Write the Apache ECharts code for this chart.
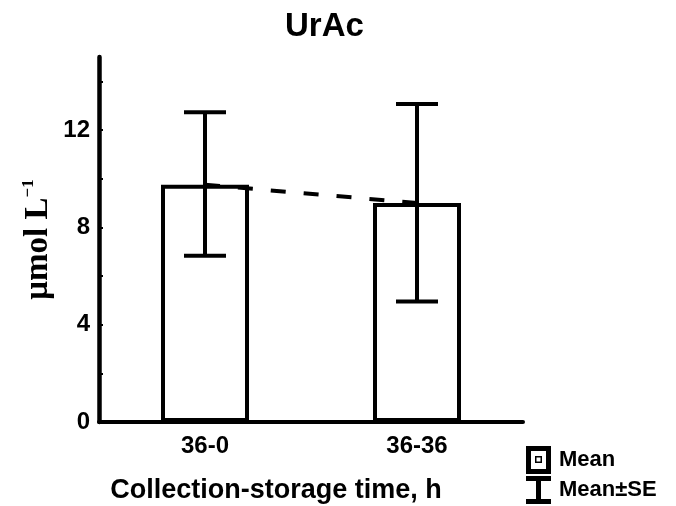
<!DOCTYPE html>
<html>
<head>
<meta charset="utf-8">
<script src="https://cdn.jsdelivr.net/npm/echarts@6/dist/echarts.min.js"></script>
<style>html,body{margin:0;padding:0;background:#fff;}#c{width:676px;height:506px;}</style>
</head>
<body>
<div id="c"></div>
<script>
const categories = ['36-0', '36-36'];
const meanValues = [9.75, 9.0];
const seLow = [6.83, 4.95];
const seHigh = [12.73, 13.07];
const yTickValues = [0, 2, 4, 6, 8, 10, 12, 14];
const yLabelValues = [0, 4, 8, 12];

const FONT = '"Liberation Sans", Arial, sans-serif';
const errData = categories.map((c, i) => [i, seLow[i], seHigh[i]]);
const legendText = {fontFamily: FONT, fontWeight: 'bold', fontSize: 22, color: '#000', padding: [0, 0, 0, 3]};

const chart = echarts.init(document.getElementById('c'), null, {renderer: 'canvas'});
chart.setOption({
  animation: false,
  backgroundColor: '#fff',
  title: {
    text: 'UrAc', left: 280, top: 5,
    textStyle: {fontFamily: FONT, fontWeight: 'bold', fontSize: 33, color: '#000'}
  },
  grid: {left: 99, right: 153, top: 57, bottom: 84, containLabel: false, outerBoundsMode: 'none'},
  legend: [
    {
      orient: 'vertical', left: 526, top: 446, itemWidth: 25, itemHeight: 28, padding: 0,
      textStyle: legendText,
      data: [{name: 'Mean', icon: 'path://M0,0H25V28H0Z M5,5V23H20V5Z M9,10H16V17H9Z M10.5,11.5V15.5H14.5V11.5Z',
              itemStyle: {color: '#000', borderWidth: 0}}]
    },
    {
      orient: 'vertical', left: 526, top: 476, itemWidth: 25, itemHeight: 28, padding: 0,
      textStyle: legendText,
      data: [{name: 'Mean±SE', icon: 'path://M0,0H25V5H15V23H25V28H0V23H10V5H0Z',
              itemStyle: {color: '#000', borderWidth: 0}}]
    }
  ],
  xAxis: {
    type: 'category', data: categories, boundaryGap: true,
    axisLine: {lineStyle: {color: '#000', width: 4}},
    axisTick: {show: false},
    axisLabel: {fontFamily: FONT, fontWeight: 'bold', fontSize: 24, color: '#000', margin: 12},
    name: 'Collection-storage time, h', nameLocation: 'middle', nameGap: 55, nameMoveOverlap: false,
    nameTextStyle: {fontFamily: FONT, fontWeight: 'bold', fontSize: 27, color: '#000', padding: [0, 70, 0, 0]}
  },
  yAxis: {
    type: 'value', min: 0, max: 15,
    splitLine: {show: false},
    axisLine: {show: true, lineStyle: {color: '#000', width: 4.5}},
    axisTick: {show: true, inside: true, length: 4, lineStyle: {color: '#000', width: 2}, customValues: yTickValues},
    axisLabel: {fontFamily: FONT, fontWeight: 'bold', fontSize: 24, color: '#000', margin: 9, customValues: yLabelValues},
    name: '{a|μmol L}{b|−1}', nameLocation: 'middle', nameGap: 43, nameRotate: 90, nameMoveOverlap: false,
    nameTextStyle: {
      rich: {
        a: {fontFamily: '"Liberation Serif", "Times New Roman", serif', fontWeight: 'bold', fontSize: 33, color: '#000', lineHeight: 36},
        b: {fontFamily: '"Liberation Serif", "Times New Roman", serif', fontWeight: 'bold', fontSize: 17, color: '#000', verticalAlign: 'top', lineHeight: 36, padding: [0, 0, 14, 0]}
      }
    }
  },
  series: [
    {
      name: 'Mean', type: 'bar', data: meanValues, barWidth: 88,
      itemStyle: {color: '#fff', borderColor: '#000', borderWidth: 4},
      z: 2
    },
    {
      name: 'MeanLine', type: 'line', data: meanValues, symbol: 'none',
      lineStyle: {color: '#000', width: 4, type: [15, 18]}, z: 3
    },
    {
      name: 'Mean±SE', type: 'custom', data: errData, z: 4,
      itemStyle: {color: '#000'},
      renderItem: function (params, api) {
        const x = api.value(0);
        const lo = api.coord([x, api.value(1)]);
        const hi = api.coord([x, api.value(2)]);
        const hw = 21;
        const st = {stroke: '#000', lineWidth: 4, fill: null};
        return {
          type: 'group',
          children: [
            {type: 'line', shape: {x1: lo[0], y1: lo[1], x2: hi[0], y2: hi[1]}, style: st},
            {type: 'line', shape: {x1: lo[0] - hw, y1: lo[1], x2: lo[0] + hw, y2: lo[1]}, style: st},
            {type: 'line', shape: {x1: hi[0] - hw, y1: hi[1], x2: hi[0] + hw, y2: hi[1]}, style: st}
          ]
        };
      }
    }
  ]
});
</script>
</body>
</html>
